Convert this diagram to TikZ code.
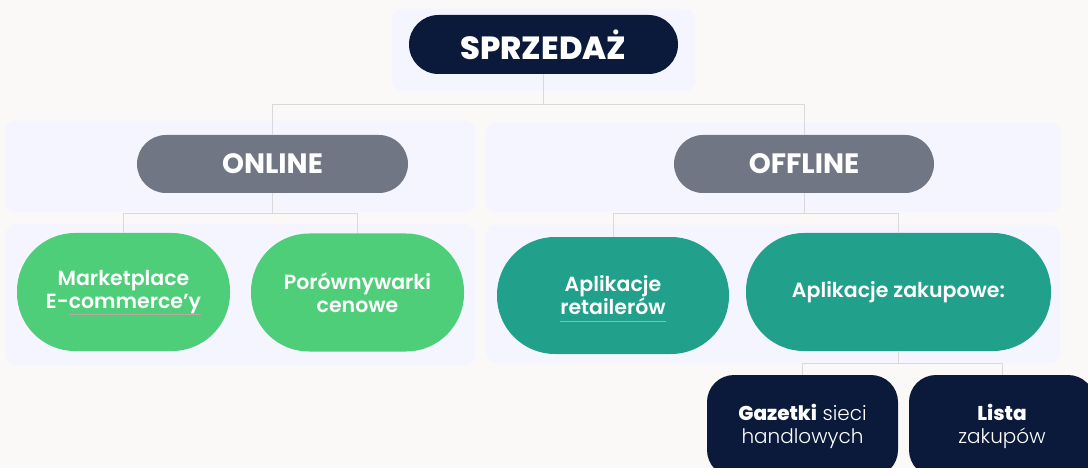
\documentclass[tikz,border=0pt]{standalone}
\usepackage{fontspec}
\setmainfont{Poppins}
\newfontfamily\heavy{Poppins ExtraBold}
\newfontfamily\semi{Poppins SemiBold}
\newfontfamily\thin{Poppins Light}
\definecolor{bgcol}{HTML}{FAF9F7}
\definecolor{panelcol}{HTML}{F4F5FF}
\definecolor{navycol}{HTML}{0B1A3B}
\definecolor{greycol}{HTML}{717684}
\definecolor{greencol}{HTML}{4FCE7A}
\definecolor{tealcol}{HTML}{21A08B}
\definecolor{linecol}{HTML}{D9D9DC}
\definecolor{squigcol}{HTML}{B9A9A0}
\newcommand{\squig}[1]{\setbox0\hbox{#1}\rlap{\smash{\color{squigcol}\rule[-7pt]{\wd0}{1.1pt}}}\box0}

\begin{document}
\begin{tikzpicture}[x=1pt, y=-1pt,
    every node/.style = {text = white, align = center, inner sep = 0pt},
    panel/.style = {fill = panelcol, rounded corners = 10pt},
    link/.style = {draw = linecol, line width = 1pt},
    head/.style = {fill = navycol, minimum width = 269pt, minimum height = 59pt,
                   rounded corners = 29.5pt, font = \heavy\fontsize{32}{36}\selectfont},
    branch/.style = {fill = greycol, minimum height = 58pt, rounded corners = 29pt,
                     font = \bfseries\fontsize{28}{32}\selectfont},
    leaf/.style = {minimum height = 118pt, rounded corners = 58pt,
                   font = \semi\fontsize{20.5}{23}\selectfont},
    card/.style = {fill = navycol, minimum height = 102pt, rounded corners = 27pt,
                   font = \thin\fontsize{20}{23}\selectfont}]
\useasboundingbox (0,0) rectangle (1088,468);
\clip (0,0) rectangle (1088,468);
\fill[bgcol] (0,0) rectangle (1088,468);

% panels
\fill[panel] (392,9) rectangle (695,91);
\fill[panel] (5,121) rectangle (475,212);
\fill[panel] (486,123) rectangle (1061,212);
\fill[panel] (6,224) rectangle (475,365);
\fill[panel] (486,225) rectangle (1060,363);

\node[head] (A) at (543.5,44.5) {SPRZEDAŻ};
\node[branch, minimum width = 271pt] (B) at (272.5,164) {ONLINE};
\node[branch, minimum width = 260pt] (C) at (804,164) {OFFLINE};
\node[leaf, fill = greencol, minimum width = 213pt] (D) at (123.5,292)
    {Marketplace\\E-\squig{commerce’y}};
\node[leaf, fill = greencol, minimum width = 213pt] (E) at (357.5,292.5)
    {Porównywarki\\cenowe};
\node[leaf, fill = tealcol, minimum width = 232pt, minimum height = 117pt] (F) at (613,295.5)
    {Aplikacje\\\squig{retailerów}};
\node[leaf, fill = tealcol, minimum width = 305pt] (G) at (898.5,292)
    {Aplikacje zakupowe:};
\node[card, minimum width = 191pt] (H) at (802.5,426)
    {{\heavy Gazetki} sieci\\handlowych};
\node[card, minimum width = 186pt] (I) at (1002,426)
    {{\heavy Lista}\\zakupów};

\draw[link] (A.south) -- ++(0,30.5) -| (B.north);
\draw[link] (A.south) -- ++(0,30.5) -| (C.north);
\draw[link] (B.south) -- ++(0,20) -| (D.north);
\draw[link] (B.south) -- ++(0,20) -| (E.north);
\draw[link] (C.south) -- ++(0,20) -| (F.north);
\draw[link] (C.south) -- ++(0,20) -| (G.north);
\draw[link] (G.south) -- ++(0,12) -| (H.north);
\draw[link] (G.south) -- ++(0,12) -| (I.north);

\end{tikzpicture}
\end{document}
